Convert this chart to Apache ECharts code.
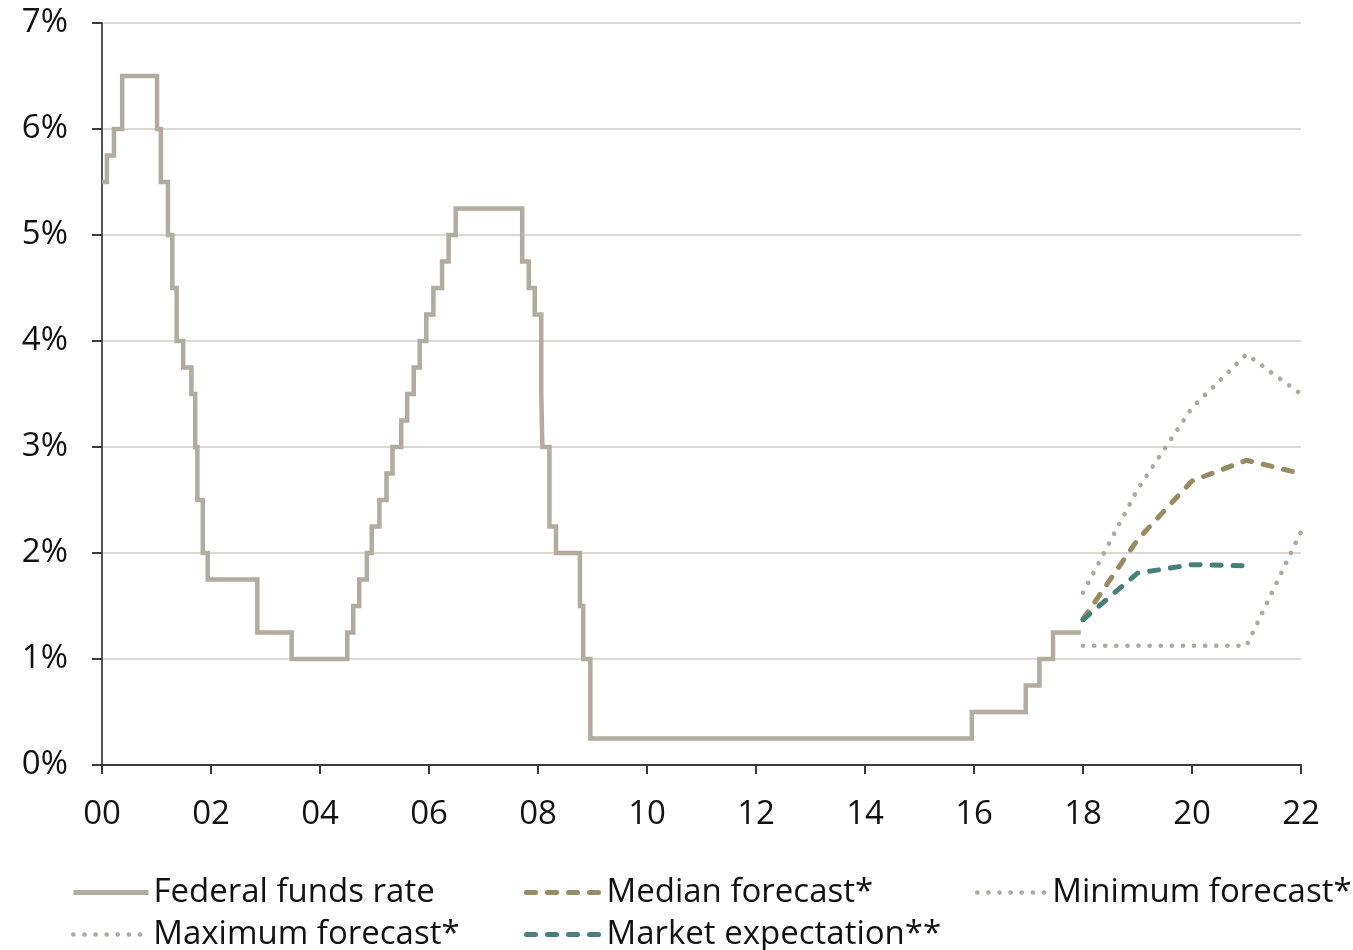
<!DOCTYPE html>
<html>
<head>
<meta charset="utf-8">
<title>Federal funds rate and projections</title>
<script src="https://cdn.jsdelivr.net/npm/echarts@6/dist/echarts.min.js"></script>
<style>
  html, body { margin: 0; padding: 0; background: #ffffff; }
  #chart { width: 1353px; height: 950px; }
</style>
</head>
<body>
<div id="chart"></div>
<script>
// Target rate changes: decimal year of each decision and the new target (%)
const fedDates = [
  2000.00, 2000.09, 2000.22, 2000.37,
  2001.01, 2001.08, 2001.21, 2001.29, 2001.37, 2001.49, 2001.64, 2001.71, 2001.75, 2001.85, 2001.94,
  2002.85, 2003.48,
  2004.50, 2004.61, 2004.72, 2004.86, 2004.95,
  2005.09, 2005.22, 2005.33, 2005.49, 2005.60, 2005.72, 2005.83, 2005.95,
  2006.08, 2006.24, 2006.36, 2006.49,
  2007.71, 2007.83, 2007.94,
  2008.06, 2008.08, 2008.21, 2008.33, 2008.77, 2008.83, 2008.96,
  2015.96, 2016.95, 2017.20, 2017.45, 2017.96
];
const fedRates = [
  5.50, 5.75, 6.00, 6.50,
  6.00, 5.50, 5.00, 4.50, 4.00, 3.75, 3.50, 3.00, 2.50, 2.00, 1.75,
  1.25, 1.00,
  1.25, 1.50, 1.75, 2.00, 2.25,
  2.50, 2.75, 3.00, 3.25, 3.50, 3.75, 4.00, 4.25,
  4.50, 4.75, 5.00, 5.25,
  4.75, 4.50, 4.25,
  3.50, 3.00, 2.25, 2.00, 1.50, 1.00, 0.25,
  0.50, 0.75, 1.00, 1.25, 1.25
];

// Projection horizon (year-end positions)
const forecastYears = [2018, 2019, 2020, 2021, 2022];
const medianForecast = [1.375, 2.125, 2.68, 2.875, 2.75];
const minimumForecast = [1.125, 1.125, 1.125, 1.125, 2.2];
const maximumForecast = [1.625, 2.6, 3.37, 3.875, 3.5];
const marketYears = [2018, 2019, 2020, 2021];
const marketExpectation = [1.37, 1.81, 1.89, 1.88];

// Axis ticks
const yTicks = [0, 1, 2, 3, 4, 5, 6, 7];
const xTickStart = 2000, xTickEnd = 2022, xTickStep = 2;

const FONT = '"Open Sans", "Noto Sans", sans-serif';
const C_FED = '#b1aba0';
const C_MEDIAN = '#978b62';
const C_MARKET = '#468077';
const C_RANGE = '#aea89e';

const zip = (xs, ys) => xs.map((x, i) => [x, ys[i]]);

const dottedStyle = { color: C_RANGE, width: 4.6, type: [0.1, 11], cap: 'round' };
const dashedMedian = { color: C_MEDIAN, width: 5, type: [9, 12], cap: 'round' };
const dashedMarket = { color: C_MARKET, width: 5, type: [9, 12], cap: 'round' };

const legendText = { fontFamily: FONT, fontSize: 33, color: '#111' };
// One legend block per entry so each can sit in its own column/row
function legendAt(name, left, top, lineStyle, width) {
  return {
    data: [{ name: name, lineStyle: lineStyle }],
    left: left, top: top,
    orient: 'horizontal',
    itemWidth: width || 75, itemHeight: 14, itemGap: 0,
    padding: 0,
    itemStyle: { opacity: 0, color: 'rgba(0,0,0,0)', borderWidth: 0 },
    textStyle: Object.assign({ padding: [0, 0, 0, 0] }, legendText),
    selectedMode: false
  };
}

const chart = echarts.init(document.getElementById('chart'), null, { renderer: 'canvas' });
chart.setOption({
  animation: false,
  backgroundColor: '#ffffff',
  grid: { left: 102, right: 52, top: 23, bottom: 185, containLabel: false },
  xAxis: {
    type: 'value',
    min: xTickStart, max: xTickEnd, interval: xTickStep,
    axisLine: { show: true, onZero: false, lineStyle: { color: '#3a3a3a', width: 2 } },
    axisTick: { show: true, length: 9, lineStyle: { color: '#3a3a3a', width: 2 } },
    axisLabel: {
      margin: 33,
      fontFamily: FONT, fontSize: 33, color: '#111',
      formatter: v => String(Math.round(v) % 100).padStart(2, '0')
    },
    splitLine: { show: false }
  },
  yAxis: {
    type: 'value',
    min: yTicks[0], max: yTicks[yTicks.length - 1], interval: 1,
    axisLine: { show: true, lineStyle: { color: '#555555', width: 2 } },
    axisTick: { show: true, length: 10, lineStyle: { color: '#3a3a3a', width: 2 } },
    axisLabel: {
      margin: 34,
      padding: [5, 0, 0, 0],
      fontFamily: FONT, fontSize: 33, color: '#111',
      formatter: v => v + '%'
    },
    splitLine: { show: true, lineStyle: { color: '#ddd8d3', width: 2 } }
  },
  legend: [
    legendAt('Federal funds rate', 71, 876, { color: C_FED, width: 5, type: 'solid' }),
    legendAt('Median forecast*', 524, 876, dashedMedian),
    legendAt('Minimum forecast*', 975, 876, dottedStyle, 70),
    legendAt('Maximum forecast*', 71, 918, dottedStyle),
    legendAt('Market expectation**', 524, 918, dashedMarket)
  ],
  series: [
    {
      name: 'Federal funds rate', type: 'line', step: 'end',
      data: zip(fedDates, fedRates),
      symbol: 'none', itemStyle: { color: C_FED },
      lineStyle: { color: C_FED, width: 4.5, join: 'miter' },
      z: 2
    },
    {
      name: 'Maximum forecast*', type: 'line',
      data: zip(forecastYears, maximumForecast),
      symbol: 'none', itemStyle: { color: C_RANGE },
      lineStyle: dottedStyle, z: 3
    },
    {
      name: 'Minimum forecast*', type: 'line',
      data: zip(forecastYears, minimumForecast),
      symbol: 'none', itemStyle: { color: C_RANGE },
      lineStyle: dottedStyle, z: 3
    },
    {
      name: 'Median forecast*', type: 'line',
      data: zip(forecastYears, medianForecast),
      symbol: 'none', itemStyle: { color: C_MEDIAN },
      lineStyle: dashedMedian, z: 4
    },
    {
      name: 'Market expectation**', type: 'line',
      data: zip(marketYears, marketExpectation),
      symbol: 'none', itemStyle: { color: C_MARKET },
      lineStyle: dashedMarket, z: 5
    }
  ]
});
</script>
</body>
</html>
